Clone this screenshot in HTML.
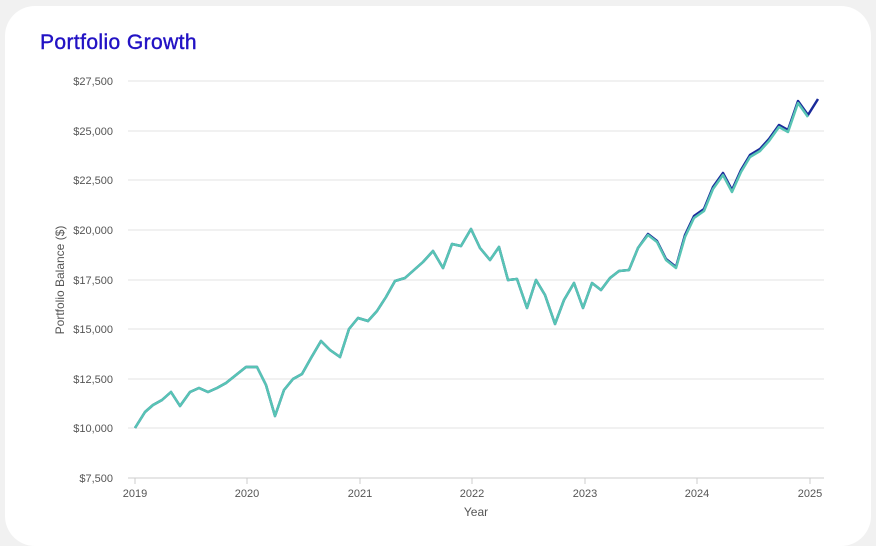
<!DOCTYPE html>
<html><head><style>
body{margin:0;background:#f1f1f1;width:876px;height:526px;overflow:hidden;font-family:"Liberation Sans",sans-serif}
.card{position:absolute;left:5px;top:6px;width:866px;height:540px;background:#fff;border-radius:30px}
.t{position:absolute;left:40px;top:31px;font-size:21px;color:#2212c4;letter-spacing:0.4px;-webkit-text-stroke:0.4px #2212c4}
</style></head><body>
<div class="card"></div>
<div class="t">Portfolio Growth</div>
<svg width="876" height="526" style="position:absolute;left:0;top:0" font-family="Liberation Sans, sans-serif">
<g stroke="#e3e3e3" stroke-width="1">
<line x1="128" x2="824" y1="81" y2="81"/><line x1="128" x2="824" y1="131" y2="131"/>
<line x1="128" x2="824" y1="180" y2="180"/><line x1="128" x2="824" y1="230" y2="230"/>
<line x1="128" x2="824" y1="280" y2="280"/><line x1="128" x2="824" y1="329" y2="329"/>
<line x1="128" x2="824" y1="379" y2="379"/><line x1="128" x2="824" y1="428" y2="428"/>
</g>
<line x1="128" x2="824" y1="478" y2="478" stroke="#ccc"/>
<g stroke="#ccc"><line x1="135" x2="135" y1="478" y2="484"/><line x1="247" x2="247" y1="478" y2="484"/><line x1="360" x2="360" y1="478" y2="484"/><line x1="472" x2="472" y1="478" y2="484"/><line x1="585" x2="585" y1="478" y2="484"/><line x1="697" x2="697" y1="478" y2="484"/><line x1="810" x2="810" y1="478" y2="484"/></g>
<g font-size="11" fill="#555" text-anchor="end">
<text x="113" y="85">$27,500</text><text x="113" y="135">$25,000</text><text x="113" y="184">$22,500</text><text x="113" y="234">$20,000</text><text x="113" y="284">$17,500</text><text x="113" y="333">$15,000</text><text x="113" y="383">$12,500</text><text x="113" y="432">$10,000</text><text x="113" y="482">$7,500</text>
</g>
<g font-size="11" fill="#555" text-anchor="middle">
<text x="135" y="497">2019</text><text x="247" y="497">2020</text><text x="360" y="497">2021</text><text x="472" y="497">2022</text><text x="585" y="497">2023</text><text x="697" y="497">2024</text><text x="810" y="497">2025</text>
<text x="476" y="516" font-size="12">Year</text>
<text transform="translate(64,280) rotate(-90)" font-size="12">Portfolio Balance ($)</text>
</g>
<polyline fill="none" stroke="#1a2a9a" stroke-width="2.5" stroke-linejoin="round" points="135,428 145,412 153,405 162,400 171,392 180,406 190,392 199,388 208,392 217,388 226,383 236,375 246,367 257,367 266,385 275,416 284,390 293,379 302,374 311,358 321,341 330,350 340,357 349,329 358,318 368,321 377,311 386,297 395,281 405,278 414,270 423,262 433,251 443,268 452,244 461,246 471,229 480,248 490,260 499,247 508,280 517,279 527,308 536,280 545,295 555,324 564,300 574,283 583,308 592,283 601,290 610,278 619,271 629,270 638,248 648,234 657,241 666,259 676,267 685,235 694,216 704,209 713,187 723,173 732,190 741,170 750,155 760,149 769,139 779,125 788,130 798,101 808,115 818,99"/>
<polyline fill="none" stroke="#58c4b4" stroke-width="2.5" stroke-linejoin="round" points="135,428 145,412 153,405 162,400 171,392 180,406 190,392 199,388 208,392 217,388 226,383 236,375 246,367 257,367 266,385 275,416 284,390 293,379 302,374 311,358 321,341 330,350 340,357 349,329 358,318 368,321 377,311 386,297 395,281 405,278 414,270 423,262 433,251 443,268 452,244 461,246 471,229 480,248 490,260 499,247 508,280 517,279 527,308 536,280 545,295 555,324 564,300 574,283 583,308 592,283 601,290 610,278 619,271 629,270 638,248 648,235 657,242 666,260 676,268 685,237 694,218 704,211 713,189 723,175 732,192 741,172 750,157 760,151 769,141 779,127 788,132 798,103 808,117"/>
</svg>
</body></html>
